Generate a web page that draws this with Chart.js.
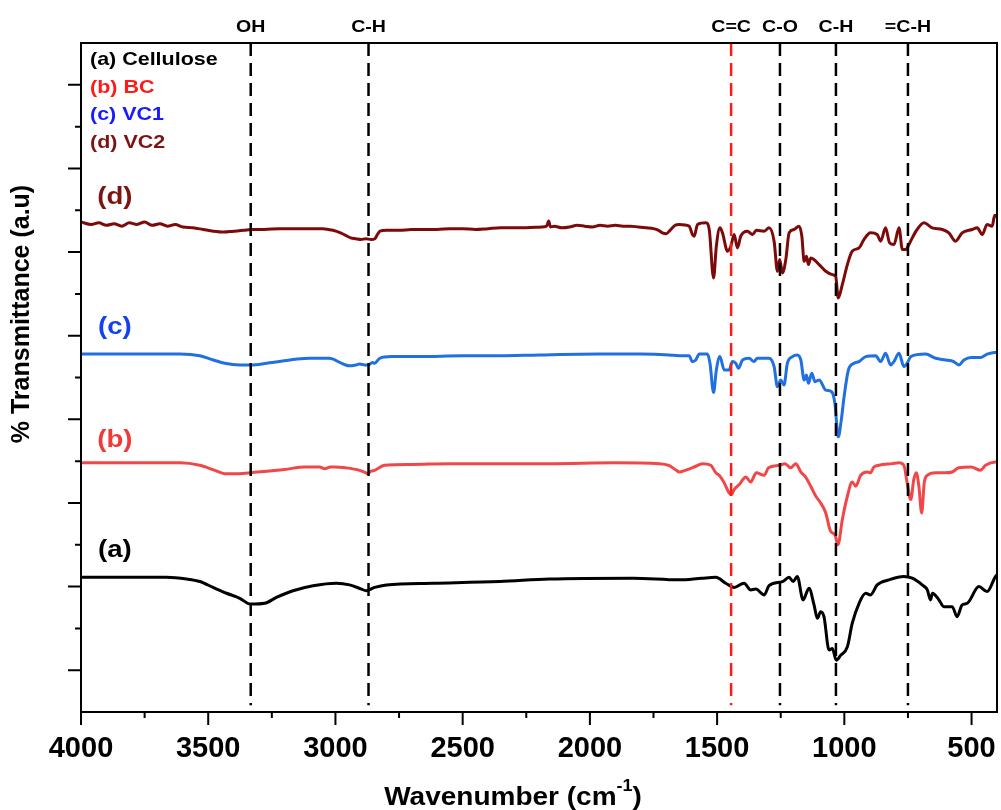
<!DOCTYPE html>
<html>
<head>
<meta charset="utf-8">
<script src="https://cdn.jsdelivr.net/npm/chart.js@4.4.1/dist/chart.umd.min.js"></script>
<style>
  body { margin: 0; background: #fff; }
  #wrap { width: 1001px; height: 810px; }
</style>
</head>
<body>
<div id="wrap"><canvas id="ftirChart" width="1001" height="810"></canvas></div>
<script>
// axis ticks (wavenumber, cm-1) and y ticks (a.u.)
const xTicks = [4000, 3500, 3000, 2500, 2000, 1500, 1000, 500];
const xMinorTicks = [3750, 3250, 2750, 2250, 1750, 1250, 750];
const yTicks = [5, 15, 25, 35, 45, 55, 65, 75];
const yMinorTicks = [10, 20, 30, 40, 50, 60, 70];

// band markers
const markerLabels = ['OH', 'C-H', 'C=C', 'C-O', 'C-H', '=C-H'];
const markerWn = [3333, 2870, 1445, 1253, 1033, 750];

// (a) Cellulose
const celluloseWn = [4000, 3800, 3664, 3585, 3533, 3481, 3428, 3376, 3334, 3278, 3232, 3167, 3088, 2996, 2944, 2898, 2879, 2846, 2800, 2617, 2355, 2159, 1832, 1649, 1560, 1505, 1466, 1433, 1394, 1368, 1348, 1315, 1296, 1243, 1217, 1201, 1185, 1162, 1139, 1119, 1106, 1093, 1080, 1060, 1047, 1032, 1014, 988, 969, 942, 916, 897, 871, 825, 766, 733, 694, 674, 661, 654, 628, 609, 576, 557, 537, 517, 471, 439, 406, 400];
const celluloseT = [16.1, 16.1, 16.1, 15.9, 15.6, 14.9, 14.2, 13.6, 12.9, 13.0, 13.7, 14.5, 15.1, 15.4, 15.2, 14.7, 14.5, 14.9, 15.2, 15.4, 15.6, 15.9, 16.0, 15.8, 16.0, 16.1, 15.4, 14.9, 15.4, 14.6, 14.7, 14.0, 15.1, 15.6, 16.1, 15.6, 16.2, 13.4, 14.8, 12.8, 11.2, 12.0, 11.4, 7.4, 7.6, 6.2, 6.8, 7.8, 10.6, 13.0, 14.2, 14.0, 15.2, 15.8, 16.2, 16.0, 15.2, 14.6, 13.4, 14.2, 13.4, 12.6, 12.6, 11.4, 12.8, 13.0, 15.0, 14.4, 16.2, 16.4];

// (b) BC
const bcWn = [4000, 3800, 3611, 3533, 3474, 3435, 3380, 3333, 3270, 3200, 3121, 3062, 3042, 3020, 3003, 2960, 2905, 2880, 2874, 2860, 2846, 2807, 2700, 2552, 2400, 2159, 1900, 1727, 1690, 1660, 1649, 1625, 1590, 1557, 1525, 1505, 1492, 1472, 1453, 1444, 1433, 1413, 1387, 1368, 1346, 1315, 1298, 1256, 1233, 1211, 1191, 1171, 1152, 1132, 1112, 1093, 1073, 1054, 1037, 1025, 1008, 988, 969, 955, 936, 910, 897, 884, 864, 812, 785, 766, 753, 739, 727, 717, 707, 696, 686, 674, 641, 602, 576, 550, 502, 465, 445, 406, 400];
const bcT = [29.8, 29.8, 29.8, 29.5, 28.9, 28.5, 28.5, 28.6, 28.8, 29.0, 29.3, 29.3, 29.1, 29.3, 29.3, 29.2, 28.9, 28.6, 28.5, 28.8, 28.9, 29.5, 29.6, 29.7, 29.7, 29.7, 29.8, 29.7, 29.5, 28.9, 28.7, 28.9, 29.3, 29.7, 29.5, 28.6, 28.3, 27.4, 26.2, 26.0, 26.6, 27.2, 28.1, 27.5, 28.6, 28.3, 29.2, 29.5, 29.7, 29.2, 29.7, 28.7, 28.1, 27.0, 25.8, 25.0, 23.8, 21.6, 21.2, 20.0, 23.0, 25.8, 27.5, 27.0, 28.3, 28.7, 28.6, 29.3, 29.5, 29.7, 29.8, 29.5, 27.4, 25.4, 27.8, 28.6, 27.0, 23.8, 27.4, 28.3, 28.6, 28.6, 28.7, 29.2, 29.3, 28.9, 29.5, 29.9, 29.9];

// (c) VC1
const vc1Wn = [4000, 3800, 3611, 3533, 3480, 3435, 3376, 3333, 3270, 3219, 3150, 3100, 3023, 2983, 2960, 2944, 2920, 2905, 2885, 2870, 2855, 2846, 2826, 2780, 2670, 2500, 2355, 2200, 1963, 1800, 1688, 1649, 1610, 1597, 1584, 1570, 1538, 1528, 1514, 1503, 1489, 1472, 1453, 1440, 1427, 1416, 1400, 1374, 1355, 1342, 1296, 1276, 1263, 1250, 1237, 1224, 1204, 1185, 1171, 1158, 1149, 1141, 1128, 1115, 1099, 1073, 1050, 1037, 1024, 1012, 1001, 984, 962, 942, 916, 877, 857, 838, 818, 805, 785, 766, 753, 739, 681, 641, 602, 570, 550, 530, 502, 465, 439, 409, 400];
const vc1T = [42.8, 42.8, 42.8, 42.6, 42.1, 41.7, 41.5, 41.5, 41.7, 41.9, 42.2, 42.3, 42.3, 41.8, 41.5, 41.4, 41.5, 41.6, 41.5, 41.5, 41.8, 41.7, 42.3, 42.5, 42.5, 42.6, 42.6, 42.7, 42.8, 42.8, 42.7, 42.6, 42.6, 41.9, 42.1, 42.8, 42.8, 41.7, 38.2, 40.9, 42.5, 40.9, 40.9, 41.9, 41.7, 41.1, 42.1, 42.3, 41.9, 42.3, 42.3, 41.3, 38.9, 39.7, 39.1, 41.7, 42.5, 42.7, 42.1, 39.7, 40.3, 39.3, 40.5, 39.5, 39.7, 38.5, 38.3, 36.9, 32.9, 34.9, 37.7, 40.9, 41.7, 41.9, 42.5, 42.6, 41.9, 42.9, 41.5, 41.9, 42.9, 41.3, 41.7, 42.5, 42.8, 42.3, 42.1, 41.9, 41.5, 42.1, 42.4, 42.4, 42.8, 43.0, 43.0];

// (d) VC2
const vc2Wn = [4000, 3960, 3930, 3900, 3870, 3840, 3810, 3780, 3750, 3720, 3690, 3660, 3630, 3600, 3560, 3520, 3480, 3440, 3400, 3360, 3330, 3280, 3220, 3160, 3100, 3050, 3010, 2980, 2960, 2940, 2920, 2900, 2880, 2860, 2845, 2835, 2825, 2800, 2750, 2700, 2650, 2600, 2550, 2500, 2450, 2400, 2350, 2300, 2250, 2190, 2170, 2162, 2155, 2140, 2110, 2080, 2050, 2020, 1990, 1960, 1930, 1900, 1870, 1840, 1810, 1780, 1750, 1730, 1715, 1700, 1685, 1665, 1649, 1610, 1597, 1590, 1577, 1544, 1531, 1514, 1503, 1489, 1479, 1459, 1446, 1433, 1420, 1407, 1381, 1361, 1346, 1315, 1296, 1276, 1263, 1254, 1243, 1230, 1217, 1198, 1178, 1167, 1158, 1149, 1141, 1132, 1119, 1099, 1073, 1047, 1034, 1024, 1008, 988, 969, 942, 923, 897, 871, 857, 838, 822, 805, 785, 772, 759, 746, 733, 714, 687, 655, 615, 589, 563, 537, 498, 478, 458, 439, 419, 409, 400];
const vc2T = [58.6, 58.3, 58.5, 58.2, 58.4, 58.1, 58.5, 58.3, 58.6, 58.2, 58.4, 58.1, 58.3, 58.0, 57.9, 57.7, 57.5, 57.4, 57.5, 57.6, 57.7, 57.7, 57.8, 57.8, 57.8, 57.8, 57.6, 57.3, 57.0, 56.7, 56.6, 56.5, 56.6, 56.5, 56.6, 57.1, 57.5, 57.6, 57.6, 57.7, 57.7, 57.7, 57.8, 57.8, 57.7, 57.8, 57.9, 57.9, 57.9, 58.0, 58.1, 58.7, 58.0, 58.1, 57.9, 58.0, 58.2, 58.1, 58.0, 58.2, 58.1, 58.2, 58.1, 58.1, 58.0, 57.9, 57.8, 57.6, 57.3, 57.2, 57.6, 58.2, 58.3, 58.1, 57.1, 56.9, 58.3, 58.5, 57.7, 51.9, 55.7, 57.9, 57.3, 55.1, 55.7, 57.1, 55.5, 56.9, 57.5, 57.1, 57.6, 57.5, 57.9, 56.3, 52.7, 54.1, 52.5, 54.1, 57.3, 57.7, 58.1, 56.9, 53.9, 54.5, 53.5, 54.3, 54.1, 53.5, 52.7, 52.3, 52.1, 49.5, 51.1, 53.5, 55.1, 55.5, 56.5, 57.3, 57.1, 56.3, 57.9, 56.1, 55.9, 57.9, 55.3, 55.3, 55.9, 56.7, 57.7, 58.5, 57.9, 57.7, 57.3, 56.3, 57.3, 57.7, 57.9, 57.1, 58.3, 58.1, 59.4, 59.2];

const seriesNames = ['(a) Cellulose', '(b) BC', '(c) VC1', '(d) VC2'];
const curveTags = ['(a)', '(b)', '(c)', '(d)'];
const curveTagT = [19.3, 32.5, 46.0, 61.5];

const lineColors = ['#000000', '#f04848', '#2070e0', '#7d0a0a'];
const textColors = ['#000000', '#ff1a1a', '#1a1aff', '#7d1414'];
const tagColors = ['#000000', '#f03a3a', '#1540f0', '#7d1414'];

function zip(wn, t) {
    return wn.map((w, i) => ({ x: w, y: t[i] }));
}

const FONT = "'Liberation Sans', Arial, sans-serif";
Chart.defaults.font.family = FONT;
Chart.defaults.color = '#000';

// text in the figure is a little wider than the font, so stretch it sideways
function wideText(ctx, str, px, py, stretch) {
    ctx.save();
    ctx.translate(px, py);
    ctx.scale(stretch, 1);
    ctx.fillText(str, 0, 0);
    ctx.restore();
}

// frame, tick marks, band markers and all the free text
const overlay = {
    id: 'overlay',
    afterDatasetsDraw(chart) {
        const { ctx, chartArea: a, scales: { x, y } } = chart;
        ctx.save();

        // dashed band lines
        ctx.lineWidth = 2.5;
        ctx.setLineDash([13, 7]);
        markerWn.forEach((wn, i) => {
            const px = x.getPixelForValue(wn);
            ctx.strokeStyle = markerLabels[i] === 'C=C' ? '#ff1a1a' : '#000';
            ctx.beginPath();
            ctx.moveTo(px, a.top);
            ctx.lineTo(px, y.getPixelForValue(0.8));
            ctx.stroke();
        });
        ctx.setLineDash([]);

        // frame
        ctx.strokeStyle = '#000';
        ctx.lineWidth = 2;
        ctx.strokeRect(a.left, a.top, a.right - a.left, a.bottom - a.top);

        // tick marks
        ctx.beginPath();
        xTicks.forEach(v => { const p = x.getPixelForValue(v); ctx.moveTo(p, a.bottom); ctx.lineTo(p, a.bottom + 13); });
        xMinorTicks.forEach(v => { const p = x.getPixelForValue(v); ctx.moveTo(p, a.bottom); ctx.lineTo(p, a.bottom + 6); });
        yTicks.forEach(v => { const p = y.getPixelForValue(v); ctx.moveTo(a.left, p); ctx.lineTo(a.left - 13, p); });
        yMinorTicks.forEach(v => { const p = y.getPixelForValue(v); ctx.moveTo(a.left, p); ctx.lineTo(a.left - 6, p); });
        ctx.stroke();

        // band labels above the frame
        ctx.fillStyle = '#000';
        ctx.font = 'bold 17px ' + FONT;
        ctx.textAlign = 'center';
        ctx.textBaseline = 'middle';
        markerWn.forEach((wn, i) => wideText(ctx, markerLabels[i], x.getPixelForValue(wn), 27, 1.15));

        // legend text (top left)
        ctx.font = 'bold 19px ' + FONT;
        ctx.textAlign = 'left';
        seriesNames.forEach((name, i) => {
            ctx.fillStyle = textColors[i];
            wideText(ctx, name, a.left + 9, a.top + 17 + i * 27.5, 1.13);
        });

        // curve tags
        ctx.font = 'bold 24px ' + FONT;
        ctx.textAlign = 'center';
        curveTags.forEach((tag, i) => {
            ctx.fillStyle = tagColors[i];
            wideText(ctx, tag, x.getPixelForValue(3867), y.getPixelForValue(curveTagT[i]), 1.15);
        });

        // y title
        ctx.fillStyle = '#000';
        ctx.font = 'bold 25px ' + FONT;
        ctx.translate(22, 314);
        ctx.rotate(-Math.PI / 2);
        ctx.fillText('% Transmittance (a.u)', 0, 0);
        ctx.setTransform(1, 0, 0, 1, 0, 0);

        // x title with superscript
        const main = 'Wavenumber (cm', sup = '-1', close = ')';
        const k = 1.12;
        ctx.font = 'bold 25px ' + FONT;
        const w1 = ctx.measureText(main).width * k, w3 = ctx.measureText(close).width * k;
        ctx.font = 'bold 16px ' + FONT;
        const w2 = ctx.measureText(sup).width * k;
        const cx = 513 - (w1 + w2 + w3) / 2;
        ctx.textAlign = 'left';
        ctx.font = 'bold 25px ' + FONT;
        wideText(ctx, main, cx, 798, k);
        ctx.font = 'bold 16px ' + FONT;
        wideText(ctx, sup, cx + w1, 787, k);
        ctx.font = 'bold 25px ' + FONT;
        wideText(ctx, close, cx + w1 + w2, 798, k);

        ctx.restore();
    }
};

new Chart(document.getElementById('ftirChart'), {
    type: 'line',
    data: {
        datasets: [
            { label: seriesNames[0], data: zip(celluloseWn, celluloseT) },
            { label: seriesNames[1], data: zip(bcWn, bcT) },
            { label: seriesNames[2], data: zip(vc1Wn, vc1T) },
            { label: seriesNames[3], data: zip(vc2Wn, vc2T) }
        ].map((d, i) => Object.assign(d, {
            borderColor: lineColors[i],
            borderWidth: 3,
            pointRadius: 0,
            fill: false,
            cubicInterpolationMode: 'monotone'
        }))
    },
    options: {
        responsive: false,
        animation: false,
        layout: { padding: { top: 43, right: 4, left: 0, bottom: 0 } },
        plugins: {
            legend: { display: false },
            tooltip: { enabled: false }
        },
        scales: {
            x: {
                type: 'linear',
                reverse: true,
                min: 400,
                max: 4000,
                afterBuildTicks: scale => { scale.ticks = xTicks.map(v => ({ value: v })); },
                afterFit: scale => {
                    scale.height = 98;
                    scale.paddingLeft = 0;
                    scale.paddingRight = 0;
                },
                grid: { display: false, drawTicks: false },
                border: { display: false },
                ticks: {
                    font: { size: 29, weight: 'bold' },
                    color: '#000',
                    padding: 20,
                    maxRotation: 0,
                    autoSkip: false,
                    callback: v => String(v)
                }
            },
            y: {
                min: 0,
                max: 80,
                afterFit: scale => { scale.width = 81; },
                grid: { display: false, drawTicks: false },
                border: { display: false },
                ticks: { display: false }
            }
        }
    },
    plugins: [overlay]
});
</script>
</body>
</html>
